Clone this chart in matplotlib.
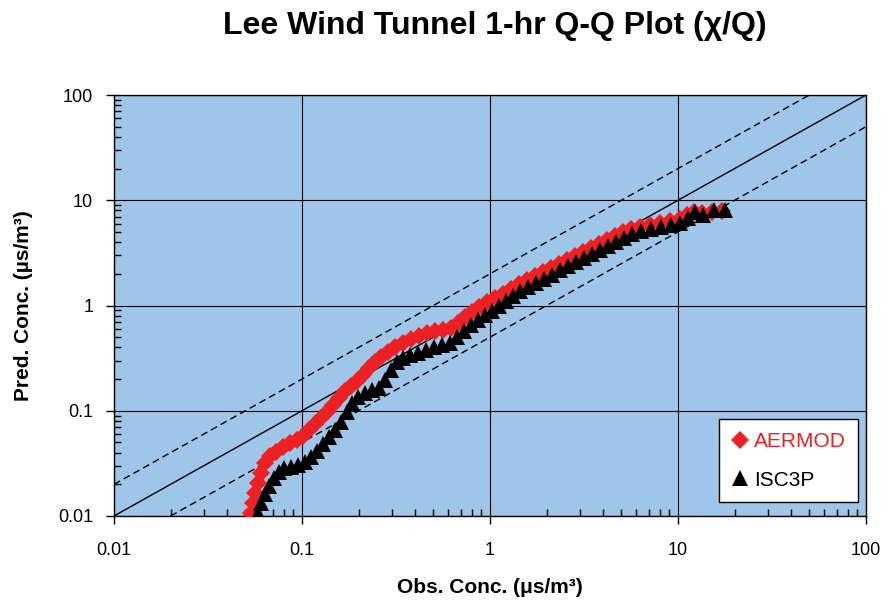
import numpy as np
from matplotlib import pyplot as plt
from matplotlib.lines import Line2D
import matplotlib

matplotlib.rcParams.update({
    'font.family': ['Liberation Sans', 'DejaVu Sans'],
    'figure.dpi': 100,
})

aermod_obs = [0.0536, 0.0549, 0.0562, 0.0583, 0.0605, 0.0635, 0.0676, 0.0728, 0.0793,
              0.0863, 0.0941, 0.1012, 0.1090, 0.1173, 0.1262, 0.1358, 0.1462, 0.1573,
              0.1693, 0.1822, 0.1962, 0.2111, 0.2272, 0.2444, 0.2631, 0.2867, 0.3124,
              0.3444, 0.3801, 0.4190, 0.4623, 0.5098, 0.5623, 0.6201, 0.6759, 0.7362,
              0.8024, 0.8740, 0.9638, 1.063, 1.172, 1.293, 1.427, 1.573, 1.735, 1.914,
              2.111, 2.328, 2.568, 2.832, 3.124, 3.445, 3.800, 4.192, 4.623, 5.098,
              5.623, 6.281, 7.099, 8.024, 9.068, 10.25, 11.16, 12.17, 13.42, 15.17, 17.14]
aermod_pred = [0.01068, 0.01329, 0.01654, 0.02058, 0.02563, 0.0319, 0.0372, 0.0405, 0.0452,
               0.0494, 0.0527, 0.0575, 0.0656, 0.0748, 0.0853, 0.0973, 0.1134, 0.1322,
               0.1540, 0.1718, 0.1917, 0.2186, 0.2548, 0.2905, 0.3241, 0.3615, 0.4033,
               0.4403, 0.4805, 0.5131, 0.5480, 0.5724, 0.5851, 0.6112, 0.6818, 0.7774,
               0.8673, 0.9676, 1.080, 1.178, 1.286, 1.435, 1.601, 1.747, 1.907, 2.081,
               2.271, 2.480, 2.706, 2.953, 3.223, 3.518, 3.839, 4.192, 4.575, 4.993,
               5.332, 5.570, 5.819, 6.080, 6.353, 6.636, 7.244, 7.734, 7.566, 7.734, 7.905]

isc3p_obs = [0.0583, 0.0605, 0.0635, 0.0668, 0.0710, 0.0755, 0.0802, 0.0874, 0.0952,
             0.1038, 0.1117, 0.1202, 0.1293, 0.1392, 0.1498, 0.1612, 0.1735, 0.1845,
             0.1986, 0.2163, 0.2356, 0.2568, 0.2764, 0.2975, 0.3201, 0.3444, 0.3755,
             0.4140, 0.4566, 0.5037, 0.5556, 0.6127, 0.6677, 0.7273, 0.7925, 0.8634,
             0.9406, 1.025, 1.117, 1.216, 1.325, 1.444, 1.592, 1.757, 1.938, 2.137,
             2.357, 2.600, 2.867, 3.162, 3.488, 3.846, 4.243, 4.680, 5.163, 5.693,
             6.358, 7.185, 8.122, 9.180, 10.25, 11.30, 12.31, 13.58, 15.54, 17.78]
isc3p_pred = [0.01068, 0.01329, 0.01618, 0.01928, 0.02296, 0.02618, 0.02858, 0.0292, 0.0305,
              0.0326, 0.0364, 0.0415, 0.0483, 0.0563, 0.0656, 0.0782, 0.0973, 0.1185,
              0.1351, 0.1475, 0.1575, 0.1645, 0.1960, 0.2439, 0.2905, 0.3170, 0.3386,
              0.3537, 0.3777, 0.4033, 0.4213, 0.4403, 0.5019, 0.5724, 0.6528, 0.7282,
              0.8123, 0.8866, 0.9890, 1.104, 1.231, 1.373, 1.499, 1.636, 1.786, 1.950,
              2.175, 2.373, 2.590, 2.827, 3.085, 3.368, 3.676, 4.011, 4.378, 4.778,
              5.104, 5.332, 5.570, 5.819, 6.080, 6.784, 7.734, 7.244, 8.080, 8.080]

lim = [0.01, 100]
red = '#ed2024'

fig = plt.figure(figsize=(8.9, 6.03))
ax = fig.add_axes([114/890, 1-516/603, 752/890, 421/603])
ax.set_facecolor('#9fc5e8')

# 1:1 and factor-of-two lines
ax.plot(lim, lim, 'k', lw=1, zorder=2)
ax.plot([0.01, 50], [0.02, 100], 'k', lw=1, dashes=(5, 3), zorder=2)
ax.plot([0.02, 100], [0.01, 50], 'k', lw=1, dashes=(5, 3), zorder=2)

ax.plot(aermod_obs, aermod_pred, ls='none', marker='D', ms=9, color=red, mew=0, zorder=3)
ax.plot(isc3p_obs, isc3p_pred, ls='none', marker='^', ms=12, color='k', mew=0, zorder=4)

ax.set_xscale('log')
ax.set_yscale('log')
ax.set_xlim(lim)
ax.set_ylim(lim)
ax.set_xticks([0.01, 0.1, 1, 10, 100])
ax.set_xticklabels(['0.01', '0.1', '1', '10', '100'])
ax.set_yticks([0.01, 0.1, 1, 10, 100])
ax.set_yticklabels(['0.01', '0.1', '1', '10', '100'])
ax.grid(which='major', color='k', lw=0.8, zorder=1)
ax.set_axisbelow(True)
ax.tick_params(which='major', direction='out', length=6, width=1, labelsize=13, pad=9)
ax.tick_params(axis='x', which='major', pad=13)
ax.tick_params(which='minor', direction='in', length=5, width=1)
for s in ax.spines.values():
    s.set_color('k')
    s.set_linewidth(1)

ax.set_xlabel('Obs. Conc. (μs/m³)', fontsize=15, fontweight='bold')
ax.set_ylabel('Pred. Conc. (µs/m³)', fontsize=15, fontweight='bold')
ax.xaxis.set_label_coords(0.5, -0.148)
ax.yaxis.set_label_coords(-0.108, 0.5)

fig.suptitle('Lee Wind Tunnel 1-hr Q-Q Plot (χ/Q)', x=495/890, y=1-26/603,
             va='center', fontsize=23, fontweight='bold')

handles = [Line2D([], [], ls='none', marker='D', ms=9, color=red, mew=0),
           Line2D([], [], ls='none', marker='^', ms=11, color='k', mew=0)]
leg = ax.legend(handles, ['AERMOD', 'ISC3P'], loc='lower right',
                bbox_to_anchor=(0.99, 0.033), borderaxespad=0, fontsize=15,
                fancybox=False, framealpha=1, edgecolor='k', handlelength=0.8,
                handletextpad=0.3, labelspacing=0.95, borderpad=0.6)
leg.get_frame().set_linewidth(1)
leg.get_texts()[0].set_color(red)

plt.savefig('out.png')
